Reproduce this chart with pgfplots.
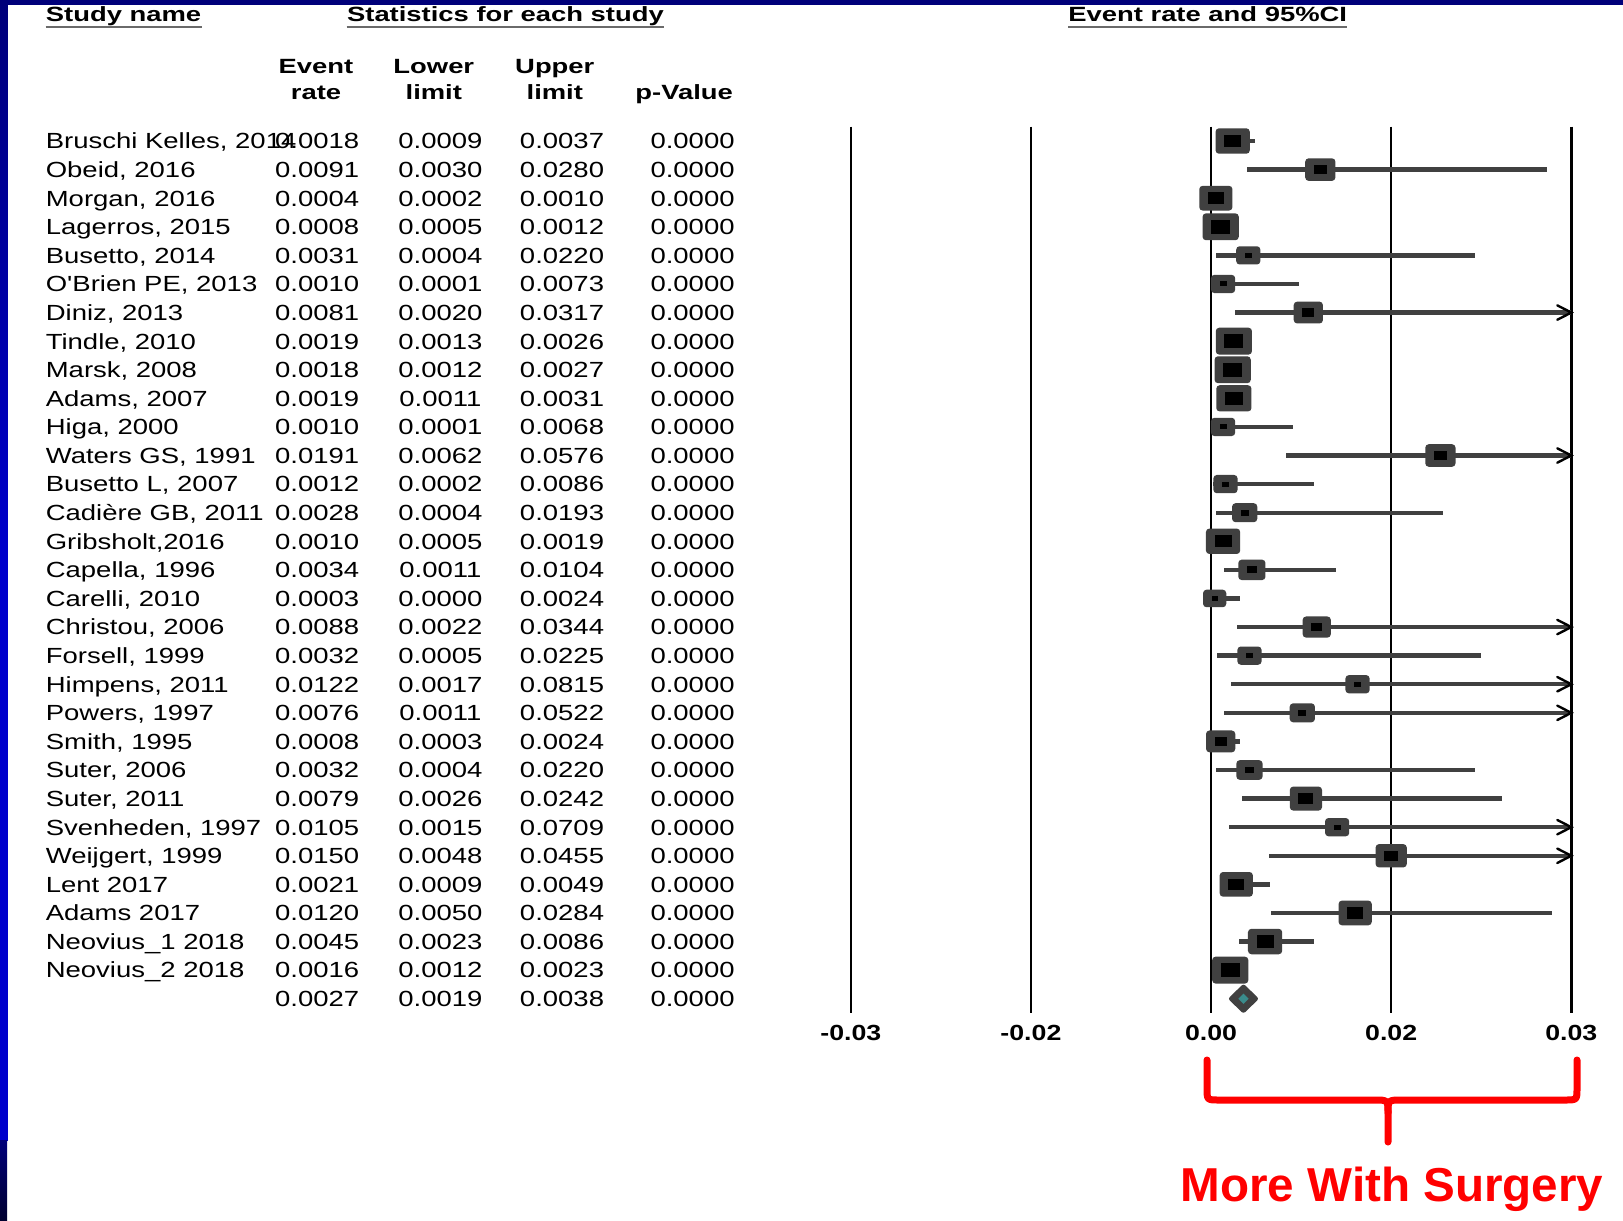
\documentclass[border=0pt]{standalone}
\usepackage{fontspec}
\setmainfont{Liberation Sans}
\newfontfamily\rowf{Liberation Sans}[FakeStretch=1.255]
\newfontfamily\hdrf{Liberation Sans}[FakeStretch=1.33]
\newfontfamily\tickf{Liberation Sans}[FakeStretch=1.22]
\usepackage{pgfplots}
\usepackage{pgfplotstable}
\pgfplotsset{compat=1.18}
\definecolor{barg}{HTML}{404040}
\definecolor{tealc}{RGB}{58,140,140}
\definecolor{ulg}{HTML}{6A6A6A}
\definecolor{navy}{HTML}{00007A}
\definecolor{brblue}{HTML}{0000CC}
\definecolor{deepnavy}{HTML}{00002E}
\newcommand\rowfont{\rowf\fontsize{10.95pt}{13pt}\selectfont}
\newcommand\hdrfont{\hdrf\bfseries\fontsize{10.3pt}{12pt}\selectfont}
\newcommand\tickfont{\tickf\bfseries\fontsize{10.95pt}{13pt}\selectfont}

% weighted study box: dark grey rounded frame with black core
\pgfdeclareplotmark{fbox}{%
  \pgfsetcornersarced{\pgfqpoint{1.7pt}{1.7pt}}%
  \pgfpathrectangle{\pgfpoint{-\pgfplotmarksize-4.3pt}{-0.72\pgfplotmarksize-3.3pt}}{\pgfpoint{2\pgfplotmarksize+8.6pt}{1.44\pgfplotmarksize+6.6pt}}%
  \pgfsetfillcolor{barg}\pgfusepath{fill}%
  \pgfsetcornersarced{\pgfpointorigin}%
  \pgfpathrectangle{\pgfpoint{-\pgfplotmarksize}{-0.72\pgfplotmarksize}}{\pgfpoint{2\pgfplotmarksize}{1.44\pgfplotmarksize}}%
  \pgfsetfillcolor{black}\pgfusepath{fill}%
}
% pooled diamond
\pgfdeclareplotmark{gdia}{%
  \pgfsetcornersarced{\pgfqpoint{1.2pt}{1.2pt}}%
  \pgfpathmoveto{\pgfqpoint{-7.75pt}{0pt}}%
  \pgfpathlineto{\pgfqpoint{0pt}{7.5pt}}%
  \pgfpathlineto{\pgfqpoint{7.75pt}{0pt}}%
  \pgfpathlineto{\pgfqpoint{0pt}{-7.5pt}}%
  \pgfpathclose
  \pgfsetfillcolor{barg}\pgfusepath{fill}%
  \pgfsetcornersarced{\pgfpointorigin}%
  \pgfpathmoveto{\pgfqpoint{-2.6pt}{0pt}}%
  \pgfpathlineto{\pgfqpoint{0pt}{2.6pt}}%
  \pgfpathlineto{\pgfqpoint{2.6pt}{0pt}}%
  \pgfpathlineto{\pgfqpoint{0pt}{-2.6pt}}%
  \pgfpathclose
  \pgfsetfillcolor{tealc}\pgfusepath{fill}%
}
% open arrow head for truncated intervals
\pgfdeclareplotmark{chev}{%
  \pgfpathmoveto{\pgfqpoint{-7pt}{3.6pt}}%
  \pgfpathlineto{\pgfpointorigin}%
  \pgfpathlineto{\pgfqpoint{-7pt}{-3.6pt}}%
  \pgfsetlinewidth{1.2pt}\pgfsetstrokecolor{black}\pgfsetroundcap
  \pgfusepath{stroke}%
}

\pgfplotstableread[col sep=semicolon,row sep=\\]{
row;name;er;ll;ul;p;bs\\
1;Bruschi Kelles, 2014;0.0018;0.0009;0.0037;0.0000;4.25\\
2;Obeid, 2016;0.0091;0.0030;0.0280;0.0000;3.25\\
3;Morgan, 2016;0.0004;0.0002;0.0010;0.0000;4.0\\
4;Lagerros, 2015;0.0008;0.0005;0.0012;0.0000;4.75\\
5;Busetto, 2014;0.0031;0.0004;0.0220;0.0000;1.75\\
6;O'Brien PE, 2013;0.0010;0.0001;0.0073;0.0000;1.75\\
7;Diniz, 2013;0.0081;0.0020;0.0317;0.0000;3.0\\
8;Tindle, 2010;0.0019;0.0013;0.0026;0.0000;4.75\\
9;Marsk, 2008;0.0018;0.0012;0.0027;0.0000;4.75\\
10;Adams, 2007;0.0019;0.0011;0.0031;0.0000;4.5\\
11;Higa, 2000;0.0010;0.0001;0.0068;0.0000;1.75\\
12;Waters GS, 1991;0.0191;0.0062;0.0576;0.0000;3.25\\
13;Busetto L, 2007;0.0012;0.0002;0.0086;0.0000;1.75\\
14;Cadière GB, 2011;0.0028;0.0004;0.0193;0.0000;2.0\\
15;Gribsholt,2016;0.0010;0.0005;0.0019;0.0000;4.25\\
16;Capella, 1996;0.0034;0.0011;0.0104;0.0000;2.5\\
17;Carelli, 2010;0.0003;0.0000;0.0024;0.0000;1.5\\
18;Christou, 2006;0.0088;0.0022;0.0344;0.0000;2.75\\
19;Forsell, 1999;0.0032;0.0005;0.0225;0.0000;1.75\\
20;Himpens, 2011;0.0122;0.0017;0.0815;0.0000;1.75\\
21;Powers, 1997;0.0076;0.0011;0.0522;0.0000;2.0\\
22;Smith, 1995;0.0008;0.0003;0.0024;0.0000;3.0\\
23;Suter, 2006;0.0032;0.0004;0.0220;0.0000;2.25\\
24;Suter, 2011;0.0079;0.0026;0.0242;0.0000;3.75\\
25;Svenheden, 1997;0.0105;0.0015;0.0709;0.0000;1.75\\
26;Weijgert, 1999;0.0150;0.0048;0.0455;0.0000;3.5\\
27;Lent 2017;0.0021;0.0009;0.0049;0.0000;4.0\\
28;Adams 2017;0.0120;0.0050;0.0284;0.0000;4.0\\
29;Neovius\_1 2018;0.0045;0.0023;0.0086;0.0000;4.25\\
30;Neovius\_2 2018;0.0016;0.0012;0.0023;0.0000;4.75\\
}\studies

\pgfplotstableread[col sep=semicolon,row sep=\\]{
row;er;ll;ul;p\\
31;0.0027;0.0019;0.0038;0.0000\\
}\pooled

\pgfplotsset{txt/.style={draw=none, mark=none, nodes near coords,
  point meta=explicit symbolic,
  nodes near coords style={font=\rowfont, text=black, inner sep=0pt, anchor=#1, yshift=-3.93pt}}}

\begin{document}
\begin{tikzpicture}
\begin{scope}[x=0.5pt,y=-0.5pt]
\useasboundingbox (0,0) rectangle (1623,1221);
\fill[white] (0,0) rectangle (1623,1221);
\shade[top color=navy, bottom color=brblue] (0,0) rectangle (7.5,560);
\fill[brblue] (0,559) rectangle (7.5,1141);
\shade[top color=navy, bottom color=deepnavy] (0,1140) rectangle (7,1221);
\fill[navy] (0,0) rectangle (1623,4.7);
\end{scope}

\begin{axis}[
  at={(605.525pt,-284.925pt)}, anchor=center,
  scale only axis, width=360.25pt, height=443.15pt,
  xmin=-0.03, xmax=0.03, ymin=0.5, ymax=31.5, y dir=reverse,
  clip=false,
  axis line style={draw=none},
  ytick=\empty,
  xtick={-0.03,-0.015,0,0.015,0.03},
  xticklabels={-0.03,-0.02,0.00,0.02,0.03},
  scaled x ticks=false,
  major tick length=0pt,
  xmajorgrids,
  major grid style={black, line width=1.3pt},
  xticklabel style={font=\tickfont, anchor=base, inner sep=0pt, yshift=-13.95pt},
]
% confidence intervals
\addplot[only marks, mark=none,
  error bars/.cd, x dir=both, x explicit, error mark=none,
  error bar style={draw=barg, line width=2.15pt}]
  table[x=er, y=row,
    x error minus expr={\thisrow{er}-\thisrow{ll}},
    x error plus expr={min(\thisrow{ul},0.03)-\thisrow{er}}] {\studies};
% arrows where the interval runs past 0.03
\addplot[only marks, mark=chev,
  restrict expr to domain={\thisrow{ul}}{0.0301:1}]
  table[x expr=0.03, y=row] {\studies};
% weighted boxes
\addplot[scatter, only marks, mark=fbox, point meta=explicit,
  visualization depends on={\thisrow{bs} \as \bs},
  scatter/@pre marker code/.append style={/tikz/mark size=\bs}]
  table[x=er, y=row, meta=bs] {\studies};
% pooled estimate
\addplot[only marks, mark=gdia] table[x=er, y=row] {\pooled};

% table columns
\addplot[txt=base west] table[x expr=-0.09707, y=row, meta=name] {\studies};
\addplot[txt=base] table[x expr=-0.07444, y=row, meta=er] {\studies};
\addplot[txt=base] table[x expr=-0.06418, y=row, meta=ll] {\studies};
\addplot[txt=base] table[x expr=-0.05405, y=row, meta=ul] {\studies};
\addplot[txt=base] table[x expr=-0.04318, y=row, meta=p] {\studies};
\addplot[txt=base] table[x expr=-0.07444, y=row, meta=er] {\pooled};
\addplot[txt=base] table[x expr=-0.06418, y=row, meta=ll] {\pooled};
\addplot[txt=base] table[x expr=-0.05405, y=row, meta=ul] {\pooled};
\addplot[txt=base] table[x expr=-0.04318, y=row, meta=p] {\pooled};
\end{axis}

\begin{scope}[x=0.5pt,y=-0.5pt]
\node[anchor=base west, inner sep=0pt, font=\hdrfont] (sn) at (45.5,21.7) {Study name};
\draw[ulg, line width=1pt] ([yshift=-2.5pt]sn.base west) -- ([yshift=-2.5pt]sn.base east);
\node[anchor=base west, inner sep=0pt, font=\hdrfont] (st) at (346.7,21.7) {Statistics for each study};
\draw[ulg, line width=1pt] ([yshift=-2.5pt]st.base west) -- ([yshift=-2.5pt]st.base east);
\node[anchor=base west, inner sep=0pt, font=\hdrfont] (ec) at (1068,21.7) {Event rate and 95\%CI};
\draw[ulg, line width=1pt] ([yshift=-2.5pt]ec.base west) -- ([yshift=-2.5pt]ec.base east);

\node[anchor=base, inner sep=0pt, font=\hdrfont] at (316,73.3) {Event};
\node[anchor=base, inner sep=0pt, font=\hdrfont] at (316,99.5) {rate};
\node[anchor=base, inner sep=0pt, font=\hdrfont] at (433.8,73.3) {Lower};
\node[anchor=base, inner sep=0pt, font=\hdrfont] at (433.8,99.5) {limit};
\node[anchor=base, inner sep=0pt, font=\hdrfont] at (554.8,73.3) {Upper};
\node[anchor=base, inner sep=0pt, font=\hdrfont] at (554.8,99.5) {limit};
\node[anchor=base, inner sep=0pt, font=\hdrfont] at (684.2,99.5) {p-Value};

% red brace
\draw[red, line width=3.5pt, line cap=round, line join=round]
  (1207,1060) -- (1207,1088) .. controls (1207,1100) .. (1219,1100)
  -- (1374,1100) .. controls (1388,1100) .. (1388,1113) -- (1388,1142);
\draw[red, line width=3.5pt, line cap=round, line join=round]
  (1388,1113) .. controls (1388,1100) .. (1402,1100)
  -- (1565,1100) .. controls (1577,1100) .. (1577,1088) -- (1577,1060);
\node[anchor=base, inner sep=0pt, text=red, font=\bfseries\fontsize{23.8pt}{28pt}\selectfont]
  at (1392,1201.7) {More With Surgery};
\end{scope}
\end{tikzpicture}
\end{document}
